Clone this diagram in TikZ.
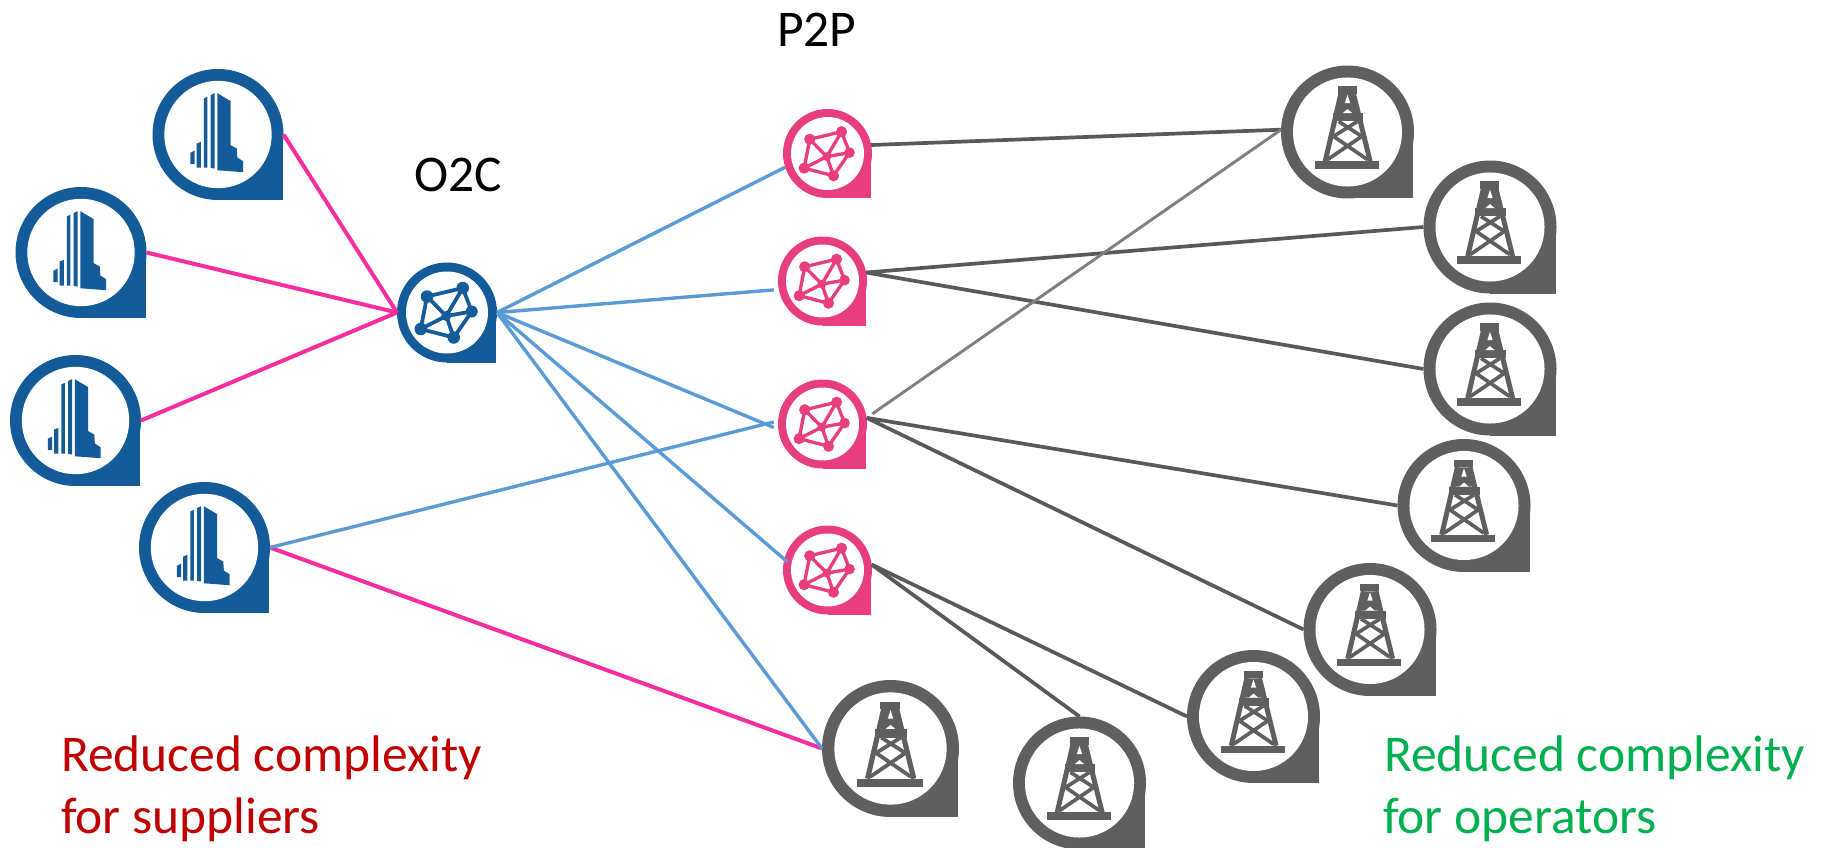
\documentclass[tikz,border=0pt]{standalone}
\usepackage{fontspec}
\setmainfont{Carlito}
\definecolor{bluepin}{HTML}{145C99}
\definecolor{pinkpin}{HTML}{E83E7F}
\definecolor{graypin}{HTML}{5F5F5F}
\definecolor{pinkline}{HTML}{F62E9F}
\definecolor{blueline}{HTML}{5B9BD5}
\definecolor{grayline}{HTML}{595959}
\definecolor{lightline}{HTML}{7F7F7F}
\definecolor{redtext}{HTML}{C00000}
\definecolor{greentext}{HTML}{00B050}
\tikzset{
  pinanchor/.style={circle,inner sep=0pt,outer sep=0pt,minimum size=#1},
  supply/.style={line width=4pt,pinkline},
  link/.style={line width=3.4pt,blueline},
  well/.style={line width=3.7pt,grayline},
  welllight/.style={line width=2.9pt,lightline},
  label/.style={font=\fontsize{51.5}{62}\selectfont,inner sep=0pt,outer sep=0pt,anchor=base west},
}
\newcommand{\iconbuilding}[1]{%
  \fill[#1] (-1,-63)--(19.4,-51)--(19.4,16.3)--(28.6,21.4)--(29.6,35.2)--(38.3,40.8)--(38.3,57.6)--(-1,54.6)--cycle;
  \fill[#1] (-11.2,-60.2)--(-5.1,-63.2)--(-5.1,52)--(-11.2,51)--cycle;
  \fill[#1] (-21.4,-55)--(-16.3,-57.6)--(-16.3,50.5)--(-21.4,50.5)--cycle;
  \fill[#1] (-32.6,13.8)--(-26,11.2)--(-26,50.5)--(-32.6,50.5)--cycle;
  \fill[#1] (-42.3,28)--(-35.7,24.5)--(-35.7,45.4)--(-42.3,45.4)--cycle;
}
\newcommand{\iconmesh}[1]{%
  \draw[#1,line width=\iconunit*7.5pt,line join=round]
    (-40,-32)--(31.5,-49)--(49.5,-2)--(13.5,50)--(-52.5,33)--cycle
    (-1.5,7)--(-40,-32) (-1.5,7)--(31.5,-49) (-1.5,7)--(49.5,-2) (-1.5,7)--(-52.5,33) (-1.5,7)--(13.5,50);
  \fill[#1] (-40,-32) circle[radius=12.5] (31.5,-49) circle[radius=12.5] (49.5,-2) circle[radius=12]
    (-52.5,33) circle[radius=12.5] (13.5,50) circle[radius=12.5] (-1.5,7) circle[radius=10];
}
\newcommand{\iconrig}[1]{%
  \fill[#1] (-15,-68.5) rectangle (14,-57.5);
  \fill[#1] (-49,44) rectangle (47,55.5);
  \fill[#1] (-22,-28.5) rectangle (24,-16);
  \fill[#1] (-10,-57.5)--(9,-57.5)--(18,-28.5)--(-18,-28.5)--cycle;
  \fill[white] (0,-56)--(4,-43.5)--(-4,-43.5)--cycle;
  \fill[white] (-7,-28.5)--(0,-34.5)--(7,-28.5)--cycle;
  \draw[#1,line width=\iconunit*7.5pt] (-10,-57.5)--(-33.5,44) (9,-57.5)--(34,44);
  \draw[#1,line width=\iconunit*5.5pt]
    (-13.5,-16)--(21.5,6.5) (15,-16)--(-21,6.5) (21.5,6.5)--(-30,41.5) (-21,6.5)--(30,41.5);
}
% name, x, y, outer radius, colour, icon
\newcommand{\pinmark}[6]{%
  \node[pinanchor=#4*2pt] (#1) at (#2,#3) {};
  \pgfmathsetmacro{\iconunit}{#4/100}
  \begin{scope}[shift={(#2,#3)},scale=\iconunit]
    \fill[#5] (0,0) circle[radius=100];
    \fill[#5] (0,0) rectangle (98.5,100);
    \fill[white] (0,0) circle[radius=82];
    #6{#5}
  \end{scope}
}
\begin{document}
\begin{tikzpicture}[x=1pt,y=-1pt]
\useasboundingbox (0,0) rectangle (1829,848);
\pinmark{b1}{218}{134.5}{65.5}{bluepin}{\iconbuilding}
\pinmark{b2}{81}{252.5}{65.5}{bluepin}{\iconbuilding}
\pinmark{b3}{75.5}{420.5}{65.5}{bluepin}{\iconbuilding}
\pinmark{b4}{204.5}{547.5}{65.5}{bluepin}{\iconbuilding}
\pinmark{oc}{447}{312.5}{50}{bluepin}{\iconmesh}
\pinmark{h1}{827.5}{153.5}{44.5}{pinkpin}{\iconmesh}
\pinmark{h2}{822.5}{281}{44.5}{pinkpin}{\iconmesh}
\pinmark{h3}{822.5}{424}{44.5}{pinkpin}{\iconmesh}
\pinmark{h4}{827.5}{570}{44.5}{pinkpin}{\iconmesh}
\pinmark{r0}{890.5}{748.5}{68.5}{graypin}{\iconrig}
\pinmark{ra}{1347.5}{132}{66.5}{graypin}{\iconrig}
\pinmark{rb}{1490}{227}{66.5}{graypin}{\iconrig}
\pinmark{rc}{1490}{369}{66.5}{graypin}{\iconrig}
\pinmark{rd}{1464}{505.5}{66.5}{graypin}{\iconrig}
\pinmark{re}{1370}{629.5}{66.5}{graypin}{\iconrig}
\pinmark{rf}{1253.5}{716.5}{66.5}{graypin}{\iconrig}
\pinmark{rg}{1079.5}{783}{66.5}{graypin}{\iconrig}
% supplier links
\draw[supply] (b1.east) -- (oc.west);
\draw[supply] (b2.east) -- (oc.west);
\draw[supply] (b3.east) -- (oc.west);
\draw[supply] (b4.east) -- (r0.west);
% O2C links
\draw[link] (oc.east) -- (h1.198);
\draw[link,shorten >=5pt] (oc.east) -- (h2.191);
\draw[link,shorten >=5pt] (oc.east) -- (h3.187.6);
\draw[link,shorten >=4.5pt] (b4.east) -- (h3.176);
\draw[link,shorten >=-3.7pt] (oc.east) -- (h4.166.5);
\draw[link] (oc.east) -- (r0.west);
% P2P links
\draw[well] (h1.11) -- (ra.178);
\draw[well] (h2.11) -- (rb.west);
\draw[well] (h2.11) -- (rc.west);
\draw[welllight,shorten <=7pt] (h3.8) -- (ra.178);
\draw[well] (h3.8) -- (rd.west);
\draw[well] (h3.8) -- (re.west);
\draw[well] (h4.7.5) -- (rf.west);
\draw[well] (h4.7.5) -- (rg.north);
% labels
\node[label] (p2p) at (777,46.5) {P2P};
\node[label] (o2c) at (414,191) {O2C};
\node[label,redtext] (redA) at (61,771) {Reduced complexity};
\node[label,redtext] (redB) at (61,833) {for suppliers};
\node[label,greentext] (greenA) at (1384,771) {Reduced complexity};
\node[label,greentext] (greenB) at (1383,833) {for operators};
\end{tikzpicture}
\end{document}
